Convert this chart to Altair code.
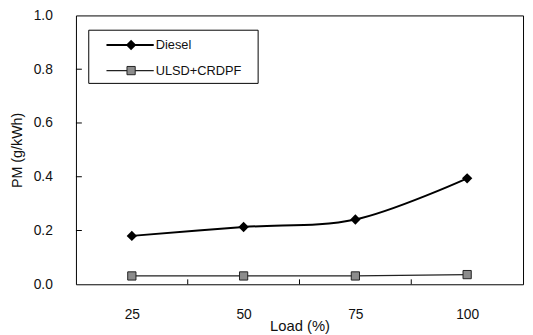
import altair as alt
import pandas as pd

loads = [25, 50, 75, 100]
diesel = [0.180, 0.213, 0.241, 0.394]
ulsd = [0.031, 0.031, 0.031, 0.036]
series = ["Diesel", "ULSD+CRDPF"]
y_ticks = [0.0, 0.2, 0.4, 0.6, 0.8, 1.0]
y_inner_ticks = [0.2, 0.4, 0.6, 0.8]
x_bounds = [37.5, 62.5, 87.5]

W, H = 454, 273
FONT = "Liberation Sans"

df_d = pd.DataFrame({"load": loads, "pm": diesel, "series": series[0]})
df_u = pd.DataFrame({"load": loads, "pm": ulsd, "series": series[1]})

xs = alt.Scale(domain=[12.5, 112.5], nice=False, zero=False)
ys = alt.Scale(domain=[0, 1], nice=False)

x_axis = alt.Axis(values=loads, title="Load (%)", ticks=False, tickSize=0, grid=False,
                  domain=False, labelPadding=24, titlePadding=-3, labelFontSize=14,
                  titleFontSize=15, titleFontWeight="normal", labelColor="#111",
                  titleColor="#111", labelFont=FONT, titleFont=FONT)
y_axis = alt.Axis(values=y_ticks, format=".1f", title="PM (g/kWh)", ticks=False, tickSize=0,
                  grid=False, domain=False, labelPadding=24, titlePadding=9,
                  labelFontSize=14, titleFontSize=14.5, titleFontWeight="normal",
                  labelColor="#111", titleColor="#111", labelFont=FONT, titleFont=FONT)

X = alt.X("load:Q", scale=xs, axis=x_axis)
Y = alt.Y("pm:Q", scale=ys, axis=y_axis)

d_line = alt.Chart(df_d).mark_line(interpolate="catmull-rom", color="black", strokeWidth=2).encode(x=X, y=Y)
d_pts = alt.Chart(df_d).mark_point(shape="diamond", filled=True, size=110, color="black", opacity=1).encode(x=X, y=Y)
u_line = alt.Chart(df_u).mark_line(color="#222", strokeWidth=1.2).encode(x=X, y=Y)
u_pts = alt.Chart(df_u).mark_point(shape="square", size=70, fill="#8c8c8c", stroke="#222",
                                   strokeWidth=1, opacity=1, fillOpacity=1).encode(x=X, y=Y)

yt = alt.Chart(pd.DataFrame({"pm": y_inner_ticks})).mark_rule(color="black").encode(
    y=Y, x=alt.value(0), x2=alt.value(6))
xt = alt.Chart(pd.DataFrame({"load": x_bounds})).mark_rule(color="black").encode(
    x=X, y=alt.value(H), y2=alt.value(H - 5))

# legend
box = alt.Chart(pd.DataFrame({"k": [0]})).mark_rect(fill="white", stroke="black", strokeWidth=1).encode(
    x=alt.value(13), x2=alt.value(185), y=alt.value(15), y2=alt.value(69))
leg_layers = [box]
leg_y = [30, 56]
styles = [
    dict(line=dict(color="black", strokeWidth=2),
         pt=dict(shape="diamond", filled=True, size=110, color="black", opacity=1)),
    dict(line=dict(color="#222", strokeWidth=1.2),
         pt=dict(shape="square", size=70, fill="#8c8c8c", stroke="#222", strokeWidth=1, opacity=1, fillOpacity=1)),
]
for name, yy, st in zip(series, leg_y, styles):
    ld = pd.DataFrame({"label": [name]})
    leg_layers.append(alt.Chart(ld).mark_rule(**st["line"]).encode(
        x=alt.value(31), x2=alt.value(79), y=alt.value(yy)))
    leg_layers.append(alt.Chart(ld).mark_point(**st["pt"]).encode(
        x=alt.value(56), y=alt.value(yy)))
    leg_layers.append(alt.Chart(ld).mark_text(align="left", baseline="middle", fontSize=13,
                                               font=FONT, color="#111").encode(
        x=alt.value(81), y=alt.value(yy), text="label:N"))

chart = alt.layer(d_line, u_line, u_pts, d_pts, yt, xt, *leg_layers).properties(
    width=W, height=H,
    padding={"left": 69, "top": 5, "right": 2, "bottom": 52},
    autosize=alt.AutoSizeParams(type="none"),
).configure_view(stroke="black", strokeWidth=1)

chart.save("out.html", embed_options={"renderer": "svg", "actions": False})
